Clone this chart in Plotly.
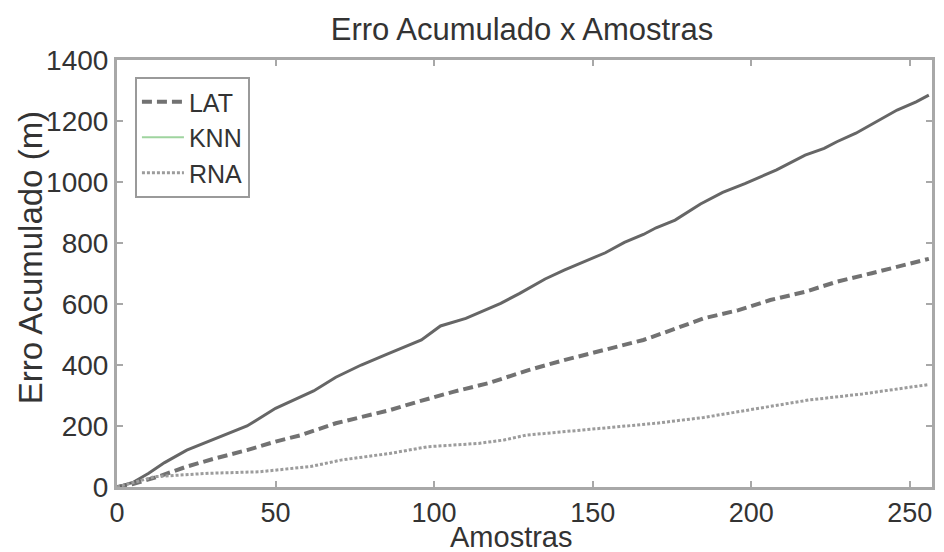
import plotly.graph_objects as go

# ---- data ----
knn_x = [0, 5, 10, 15, 22, 30, 41, 50, 55, 62, 69, 77, 85, 96, 102, 110, 121, 127, 135, 141,
         154, 160, 166, 170, 176, 184, 191, 198, 208, 217, 223, 227, 233, 239, 246, 252, 256]
knn_y = [0, 15, 45, 80, 121, 155, 200, 258, 282, 315, 360, 400, 435, 482, 528, 553, 602, 635, 682, 711,
         768, 802, 828, 850, 875, 928, 966, 995, 1040, 1088, 1110, 1132, 1160, 1196, 1236, 1263, 1285]

lat_x = [0, 5, 13, 22, 31, 41, 50, 58, 69, 77, 86, 95, 106, 117, 130, 141, 154, 166, 175, 185,
         196, 206, 217, 227, 238, 248, 256]
lat_y = [0, 10, 34, 67, 94, 121, 149, 170, 209, 230, 252, 280, 312, 340, 384, 416, 449, 482, 515, 553,
         580, 613, 640, 673, 701, 728, 748]

rna_x = [0, 6, 12, 29, 45, 61, 71, 86, 98, 114, 122, 129, 141, 154, 170, 185, 200, 218, 235, 256]
rna_y = [0, 17, 34, 45, 50, 67, 89, 110, 132, 143, 154, 170, 181, 192, 209, 228, 255, 285, 305, 336]

x_ticks = [0, 50, 100, 150, 200, 250]
y_ticks = [0, 200, 400, 600, 800, 1000, 1200, 1400]

FONT = "Liberation Sans, Arial, sans-serif"
TXT = "#333333"
AX = "#a8a8a8"

fig = go.Figure()
fig.add_trace(go.Scatter(x=lat_x, y=lat_y, mode="lines", name="LAT",
                         line=dict(color="#727272", width=4, dash="10px,5px")))
# KNN: drawn gray in the plot, green in the legend
fig.add_trace(go.Scatter(x=knn_x, y=knn_y, mode="lines", name="KNN", showlegend=False,
                         line=dict(color="#666666", width=3)))
fig.add_trace(go.Scatter(x=[None], y=[None], mode="lines", name="KNN",
                         line=dict(color="#9fd49f", width=2)))
fig.add_trace(go.Scatter(x=rna_x, y=rna_y, mode="lines", name="RNA",
                         line=dict(color="#9c9c9c", width=3, dash="3px,2px")))

fig.update_layout(
    width=944, height=552,
    margin=dict(l=117, r=9, t=60, b=65),
    paper_bgcolor="white", plot_bgcolor="white",
    font=dict(family=FONT, color=TXT, size=24),
    title=dict(text="Erro Acumulado x Amostras", x=522 / 944, xanchor="center",
               y=1 - 29 / 552, yanchor="middle", font=dict(size=31, color=TXT)),
    legend=dict(x=0.022, y=0.96, xanchor="left", yanchor="top",
                bgcolor="white", bordercolor="#9a9a9a", borderwidth=2,
                font=dict(size=25, color=TXT), tracegroupgap=0, itemwidth=42,
                traceorder="normal"),
    showlegend=True,
    annotations=[
        dict(text="Amostras", xref="paper", yref="paper",
             x=(512 - 117) / 818, y=-(537 - 487) / 427, xanchor="center", yanchor="middle",
             showarrow=False, font=dict(size=29, color=TXT)),
        dict(text="Erro Acumulado (m)", xref="paper", yref="paper", textangle=-90,
             x=-(117 - 30) / 818, y=(487 - 258) / 427, xanchor="center", yanchor="middle",
             showarrow=False, font=dict(size=33, color=TXT)),
    ],
)
fig.update_xaxes(range=[0, 257], tickvals=x_ticks, ticks="inside", ticklen=6,
                 tickcolor=AX, tickwidth=1.5, showline=True, linecolor=AX, linewidth=3,
                 mirror="ticks", showgrid=False, zeroline=False,
                 tickfont=dict(size=27, color=TXT))
fig.update_yaxes(range=[0, 1400], tickvals=y_ticks, ticks="inside", ticklen=6,
                 tickcolor=AX, tickwidth=1.5, showline=True, linecolor=AX, linewidth=3,
                 mirror="ticks", showgrid=False, zeroline=False,
                 tickfont=dict(size=28, color=TXT))

fig.write_html("out.html")
